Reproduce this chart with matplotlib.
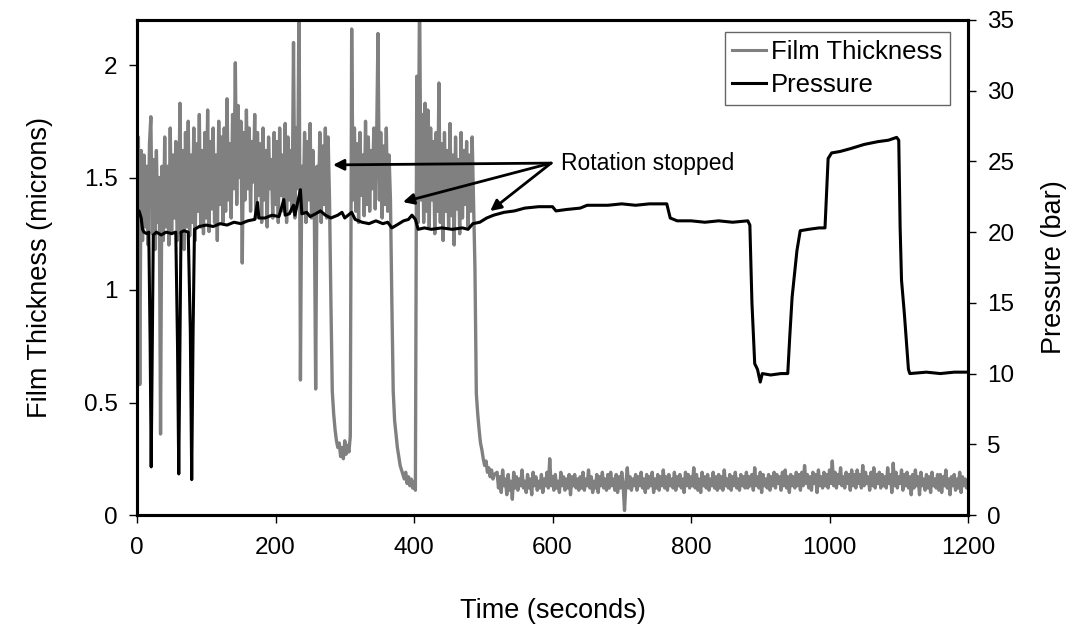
import numpy as np
import matplotlib
matplotlib.use("Agg")
import matplotlib.pyplot as plt
from matplotlib.lines import Line2D

plt.rcParams['font.family'] = ['Liberation Sans', 'DejaVu Sans']

# ---------------- Film thickness (microns) ----------------
# each segment: start time (s), sampling step (s), values
film_A_start, film_A_step = 0, 2
film_A = [1.35, 1.68, 0.58, 1.62, 1.22, 1.60, 1.28, 1.55, 1.20, 1.65,
          1.77, 1.25, 1.58, 1.18, 1.62, 1.30, 1.50, 0.36, 1.55, 1.22,
          1.68, 1.28, 1.55, 1.20, 1.72, 1.25, 1.60, 1.32, 1.66, 1.22,
          1.30, 1.83, 1.25, 1.62, 1.18, 1.70, 1.28, 1.75, 1.24, 1.60,
          1.30, 1.72, 1.22, 1.65, 1.35, 1.78, 1.28, 1.62, 1.25, 1.70,
          1.32, 1.80, 1.26, 1.66, 1.36, 1.72, 1.30, 1.60, 1.22, 1.75,
          1.38, 1.68, 1.30, 1.72, 1.35, 1.85, 1.40, 1.65, 1.32, 1.78,
          1.45, 2.01, 1.38, 1.82, 1.50, 1.75, 1.12, 1.70, 1.40, 1.80,
          1.45, 1.72, 1.35, 1.66, 1.48, 1.78, 1.32, 1.70, 1.42, 1.65,
          1.30, 1.72, 1.40, 1.62, 1.28, 1.68, 1.45, 1.58, 1.32, 1.70,
          1.38, 1.66, 1.30, 1.72, 1.42, 1.60, 1.35, 1.74, 1.30, 1.68,
          1.40, 1.62, 1.35, 2.10, 1.32, 1.72, 1.45, 2.35, 0.60, 1.55,
          1.35, 1.70, 1.30, 1.66, 1.40, 1.74, 1.32, 1.62, 1.38, 0.56,
          1.55, 1.35, 1.70, 1.30, 1.64, 1.38, 1.72, 1.32, 1.68, 1.40,
          0.95, 0.55, 0.45, 0.38, 0.33, 0.30, 0.32, 0.26, 0.30, 0.25,
          0.33, 0.27, 0.31, 0.28, 0.35]
film_B_start, film_B_step = 310, 2
film_B = [2.16, 1.40, 1.72, 1.35, 1.65, 1.30, 1.70, 1.42, 1.60, 1.33,
          1.75, 1.38, 1.68, 1.35, 1.62, 1.45, 1.72, 1.36, 1.66, 2.14,
          1.40, 1.70, 1.32, 1.64, 1.38, 1.72, 1.35, 1.60, 1.40,
          0.95, 0.55, 0.42, 0.36, 0.30, 0.26, 0.22, 0.20, 0.18, 0.16,
          0.19, 0.14, 0.17, 0.13, 0.16, 0.12, 0.15, 0.11, 1.95, 1.30]
film_C_start, film_C_step = 408, 2
film_C = [2.35, 1.40, 1.78, 1.30, 1.83, 1.35, 1.80, 1.28, 1.72, 1.40,
          1.66, 1.25, 1.70, 1.35, 1.92, 1.30, 1.65, 1.22, 1.70, 1.35,
          1.62, 1.28, 1.74, 1.33, 1.60, 1.20, 1.68, 1.36, 1.58, 1.25,
          1.70, 1.32, 1.62, 1.38, 1.66, 1.28, 1.60, 1.35, 1.68, 1.40,
          1.10, 0.54, 0.45, 0.38, 0.32, 0.29, 0.25, 0.22, 0.24, 0.19,
          0.21, 0.17, 0.20, 0.16, 0.18]
film_D_start, film_D_step = 520, 2
film_D = [0.19, 0.12, 0.17, 0.10, 0.20, 0.13, 0.16, 0.09, 0.18, 0.11, 0.15, 0.07, 0.19, 0.12, 0.17, 0.11, 0.16, 0.13, 0.20, 0.12,
          0.15, 0.10, 0.18, 0.12, 0.16, 0.09, 0.19, 0.13, 0.17, 0.11, 0.15, 0.12, 0.18, 0.10, 0.16, 0.13, 0.19, 0.12, 0.25, 0.13,
          0.17, 0.11, 0.18, 0.12, 0.15, 0.10, 0.19, 0.13, 0.17, 0.11, 0.16, 0.12, 0.18, 0.09, 0.17, 0.13, 0.18, 0.12, 0.16, 0.11,
          0.17, 0.12, 0.19, 0.11, 0.16, 0.13, 0.20, 0.12, 0.17, 0.10, 0.15, 0.12, 0.18, 0.10, 0.17, 0.13, 0.19, 0.12, 0.16, 0.11,
          0.18, 0.12, 0.19, 0.13, 0.16, 0.11, 0.18, 0.10, 0.17, 0.12, 0.19, 0.13, 0.02, 0.14, 0.21, 0.12, 0.17, 0.11, 0.16, 0.13,
          0.18, 0.11, 0.17, 0.13, 0.19, 0.12, 0.16, 0.10, 0.18, 0.12, 0.17, 0.13, 0.19, 0.10, 0.16, 0.12, 0.18, 0.11, 0.17, 0.13,
          0.20, 0.12, 0.17, 0.11, 0.18, 0.13, 0.16, 0.12, 0.19, 0.11, 0.17, 0.13, 0.18, 0.12, 0.16, 0.10, 0.19, 0.13, 0.18, 0.12,
          0.17, 0.13, 0.21, 0.12, 0.18, 0.11, 0.16, 0.10, 0.19, 0.13, 0.17, 0.12, 0.18, 0.11, 0.16, 0.13, 0.19, 0.12, 0.17, 0.11,
          0.18, 0.12, 0.17, 0.11, 0.20, 0.13, 0.16, 0.12, 0.18, 0.11, 0.17, 0.13, 0.19, 0.12, 0.16, 0.11, 0.18, 0.13, 0.17, 0.12,
          0.19, 0.12, 0.17, 0.13, 0.18, 0.11, 0.21, 0.13, 0.17, 0.12, 0.19, 0.10, 0.18, 0.13, 0.16, 0.12, 0.18, 0.11, 0.17, 0.13,
          0.19, 0.12, 0.18, 0.14, 0.17, 0.11, 0.19, 0.13, 0.20, 0.12, 0.17, 0.10, 0.18, 0.13, 0.17, 0.12, 0.19, 0.13, 0.18, 0.11,
          0.19, 0.13, 0.22, 0.14, 0.18, 0.12, 0.17, 0.11, 0.19, 0.14, 0.18, 0.10, 0.20, 0.13, 0.17, 0.12, 0.19, 0.13, 0.18, 0.12,
          0.20, 0.14, 0.24, 0.13, 0.19, 0.12, 0.18, 0.14, 0.21, 0.13, 0.17, 0.12, 0.19, 0.14, 0.18, 0.11, 0.20, 0.13, 0.18, 0.12,
          0.20, 0.14, 0.18, 0.12, 0.22, 0.13, 0.19, 0.14, 0.17, 0.11, 0.19, 0.13, 0.21, 0.12, 0.18, 0.14, 0.19, 0.12, 0.18, 0.13,
          0.17, 0.12, 0.21, 0.14, 0.18, 0.10, 0.23, 0.13, 0.19, 0.12, 0.17, 0.14, 0.20, 0.11, 0.18, 0.13, 0.19, 0.12, 0.17, 0.09,
          0.18, 0.12, 0.20, 0.13, 0.17, 0.09, 0.19, 0.13, 0.16, 0.11, 0.18, 0.12, 0.17, 0.10, 0.19, 0.13, 0.16, 0.12, 0.18, 0.11,
          0.18, 0.10, 0.17, 0.13, 0.20, 0.12, 0.16, 0.09, 0.17, 0.13, 0.18, 0.11, 0.16, 0.12, 0.19, 0.10, 0.17, 0.13, 0.16, 0.12,
          0.15]

# ---------------- Pressure (bar) ----------------
pressure_t = [0, 3, 6, 8, 10, 14, 17, 19, 20.5, 22, 23.5, 28, 35, 42, 50, 56,
              58.5, 60.3, 62, 63.5, 68, 74, 77, 79, 81, 83, 90, 100, 110, 120,
              130, 140, 150, 160, 170, 174, 176, 185, 195, 205, 212, 214, 220,
              226, 228, 236, 238, 245, 250, 258, 265, 272, 280, 290, 296, 300,
              310, 315, 325, 335, 345, 355, 362, 368, 375, 385, 392, 397, 402,
              406, 415, 425, 440, 455, 470, 478, 485, 495, 505, 515, 530, 545,
              560, 580, 600, 605, 620, 640, 650, 680, 700, 720, 740, 765, 770,
              780, 800, 820, 840, 860, 882, 885, 888, 892, 896, 900, 903, 915,
              930, 939.7, 942.6, 946, 953, 957.7, 970, 985, 993.5, 996, 998,
              1003, 1015, 1030, 1050, 1070, 1085, 1097, 1100, 1102, 1104, 1108,
              1114, 1116, 1140, 1160, 1180, 1200]
pressure_v = [21.4, 21.5, 21.0, 20.2, 20.0, 19.9, 20.0, 12.0, 3.4, 12.0, 19.8,
              20.0, 19.8, 20.0, 19.9, 20.0, 12.0, 2.9, 12.0, 20.0, 20.1, 20.0,
              13.0, 2.5, 13.0, 20.2, 20.4, 20.5, 20.4, 20.6, 20.5, 20.7, 20.6,
              20.8, 20.9, 22.1, 21.0, 21.0, 21.2, 21.1, 22.3, 21.2, 21.3, 21.9,
              21.2, 23.0, 21.3, 21.4, 21.1, 21.3, 21.5, 21.2, 21.0, 21.2, 21.4,
              21.0, 21.4, 20.9, 20.7, 20.6, 20.8, 20.6, 20.7, 20.3, 20.5, 20.8,
              20.9, 21.2, 20.9, 20.2, 20.3, 20.2, 20.3, 20.2, 20.3, 20.2, 20.6,
              20.7, 21.0, 21.2, 21.4, 21.5, 21.7, 21.8, 21.8, 21.5, 21.6, 21.7,
              21.9, 21.9, 22.0, 21.9, 22.0, 22.0, 21.0, 20.8, 20.8, 20.7, 20.8,
              20.7, 20.8, 20.5, 15.0, 10.7, 10.3, 9.4, 10.0, 9.9, 10.0, 10.0,
              12.6, 15.4, 18.7, 20.1, 20.2, 20.3, 20.3, 23.0, 25.2, 25.6, 25.7,
              25.9, 26.2, 26.4, 26.5, 26.7, 26.5, 20.3, 16.6, 14.3, 10.3, 10.0,
              10.1, 10.0, 10.1, 10.1]

x_ticks = [0, 200, 400, 600, 800, 1000, 1200]
left_ticks = [0, 0.5, 1, 1.5, 2]
left_tick_labels = ["0", "0.5", "1", "1.5", "2"]
right_ticks = [0, 5, 10, 15, 20, 25, 30, 35]

annot_text = "Rotation stopped"
annot_text_xy = (612, 1.564)
annot_tail_xy = (598, 1.564)
annot_heads = [(283, 1.556), (384, 1.391), (510, 1.351)]

# ---------------- build film series ----------------
film_t, film_v = [], []
for start, step, vals in [(film_A_start, film_A_step, film_A),
                          (film_B_start, film_B_step, film_B),
                          (film_C_start, film_C_step, film_C),
                          (film_D_start, film_D_step, film_D)]:
    film_t.extend(start + step * np.arange(len(vals)))
    film_v.extend(vals)

GRAY = '#808080'
FS_TICK = 17.5
FS_LABEL = 19.5

fig = plt.figure(figsize=(10.88, 6.30), dpi=100)
ax = fig.add_axes([137 / 1088, 115 / 630, 831 / 1088, 495 / 630])
ax2 = ax.twinx()

ax.plot(film_t, film_v, color=GRAY, lw=2.4)
ax2.plot(pressure_t, pressure_v, color='black', lw=2.2)

ax.set_xlim(0, 1200)
ax.set_ylim(0, 2.2)
ax2.set_ylim(0, 35)
ax.set_xticks(x_ticks)
ax.set_xticklabels([str(v) for v in x_ticks])
ax.set_yticks(left_ticks)
ax.set_yticklabels(left_tick_labels)
ax2.set_yticks(right_ticks)
ax2.set_yticklabels([str(v) for v in right_ticks])

for a in (ax, ax2):
    for s in a.spines.values():
        s.set_linewidth(2.2)
        s.set_color('black')
    a.tick_params(direction='out', length=6, width=1, labelsize=FS_TICK, pad=8)
ax.tick_params(axis='x', pad=10)

ax.set_xlabel("Time (seconds)", fontsize=FS_LABEL, labelpad=28)
ax.set_ylabel("Film Thickness (microns)", fontsize=FS_LABEL, labelpad=22)
ax2.set_ylabel("Pressure (bar)", fontsize=FS_LABEL, labelpad=19)

# annotation
ax2.text(annot_text_xy[0], annot_text_xy[1], annot_text, transform=ax.transData,
         fontsize=16.5, va='center', ha='left')
for hx, hy in annot_heads:
    ax2.annotate("", xy=(hx, hy), xycoords=ax.transData,
                 xytext=annot_tail_xy, textcoords=ax.transData,
                 arrowprops=dict(arrowstyle='-|>', lw=2, color='black',
                                 mutation_scale=16, shrinkA=0, shrinkB=0))

handles = [Line2D([], [], color=GRAY, lw=2.2), Line2D([], [], color='black', lw=2.2)]
leg = ax2.legend(handles, ["Film Thickness", "Pressure"], loc='upper right',
                 bbox_to_anchor=(0.978, 0.976), borderaxespad=0, fontsize=18.5,
                 frameon=True, fancybox=False, handlelength=1.3, handletextpad=0.2,
                 borderpad=0.3, labelspacing=0.36)
leg.get_frame().set_edgecolor('#404040')
leg.get_frame().set_linewidth(1)

fig.savefig("out.png", dpi=100)
